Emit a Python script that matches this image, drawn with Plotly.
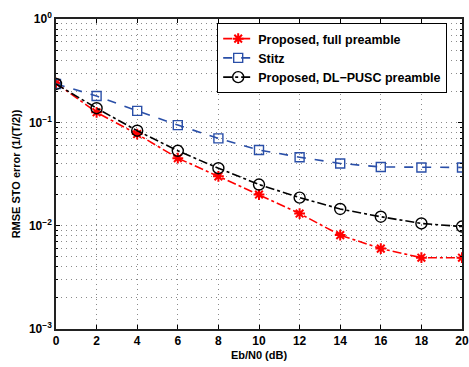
import plotly.graph_objects as go

snr_db = [0, 2, 4, 6, 8, 10, 12, 14, 16, 18, 20]
proposed_full = [0.24, 0.125, 0.077, 0.045, 0.030, 0.020, 0.0131, 0.0081, 0.0060, 0.0049, 0.0049]
stitz = [0.235, 0.18, 0.129, 0.094, 0.070, 0.054, 0.046, 0.040, 0.037, 0.0366, 0.0366]
proposed_dl = [0.235, 0.137, 0.083, 0.053, 0.036, 0.025, 0.0187, 0.0145, 0.0122, 0.0105, 0.0098]

x_ticks = [0, 2, 4, 6, 8, 10, 12, 14, 16, 18, 20]
x_ticklabels = [f"<b>{v}</b>" for v in x_ticks]
y_ticks = [1e-3, 1e-2, 1e-1, 1]
y_ticklabels = ["<b>10<sup>−3</sup></b>", "<b>10<sup>−2</sup></b>", "<b>10<sup>−1</sup></b>", "<b>10<sup>0</sup></b>"]
y_minor = [m * 10.0 ** e for e in (-3, -2, -1) for m in range(2, 10)]

FONT = "Liberation Sans"
GRID = "#8a8a8a"
GRIDDASH = "1px,4px"

fig = go.Figure()
fig.add_trace(go.Scatter(
    x=snr_db, y=proposed_full, name="<b>Proposed, full preamble</b>", mode="lines+markers",
    line=dict(color="#ff0000", width=1.6, dash="dashdot"),
    marker=dict(symbol="asterisk-open", size=9, line=dict(color="#ff0000", width=2)),
))
fig.add_trace(go.Scatter(
    x=snr_db, y=stitz, name="<b>Stitz</b>", mode="lines+markers",
    line=dict(color="#2a4fa8", width=1.6, dash="dash"),
    marker=dict(symbol="square-open", size=9, color="#2a4fa8", line=dict(color="#2a4fa8", width=1.4)),
))
fig.add_trace(go.Scatter(
    x=snr_db, y=proposed_dl, name="<b>Proposed, DL−PUSC preamble</b>", mode="lines+markers",
    line=dict(color="#000000", width=1.6, dash="dashdot"),
    marker=dict(symbol="circle-open", size=11, color="#000000", line=dict(color="#000000", width=1.4)),
))

fig.update_layout(
    width=469, height=367,
    margin=dict(l=56, r=7, t=19, b=38, autoexpand=False),
    paper_bgcolor="white", plot_bgcolor="white",
    font=dict(family=FONT, size=11, color="black"),
    showlegend=True,
    legend=dict(
        x=0.397, y=0.987, xanchor="left", yanchor="top",
        bgcolor="white", bordercolor="black", borderwidth=1,
        font=dict(family=FONT, size=12.5, color="black"),
        tracegroupgap=0, itemwidth=30,
    ),
)
fig.update_xaxes(
    range=[0, 20], tickvals=x_ticks, ticktext=x_ticklabels, ticks="inside", ticklen=4, tickcolor="black",
    showline=True, linecolor="#222222", linewidth=1.5, mirror="ticks",
    showgrid=True, gridcolor=GRID, griddash=GRIDDASH, gridwidth=1,
    zeroline=False, automargin=False,
    tickfont=dict(family=FONT, size=12, color="black"),
    title=dict(text="<b>Eb/N0 (dB)</b>", font=dict(family=FONT, size=11), standoff=4),
)
fig.update_yaxes(
    type="log", range=[-3, 0], tickvals=y_ticks, ticktext=y_ticklabels,
    ticks="inside", ticklen=4, tickcolor="black",
    showline=True, linecolor="#222222", linewidth=1.5, mirror="ticks",
    showgrid=True, gridcolor=GRID, griddash=GRIDDASH, gridwidth=1,
    zeroline=False, automargin=False,
    minor=dict(tickvals=y_minor, ticks="inside", ticklen=2, tickcolor="black",
               showgrid=True, gridcolor=GRID, griddash=GRIDDASH, gridwidth=1),
    tickfont=dict(family=FONT, size=12, color="black"),
    title=dict(text="<b>RMSE STO error (1/(T/2))</b>", font=dict(family=FONT, size=11), standoff=6),
)

fig.write_html("out.html", config={"displayModeBar": False},
               post_script="document.body.style.margin='0';document.body.style.overflow='hidden';")
